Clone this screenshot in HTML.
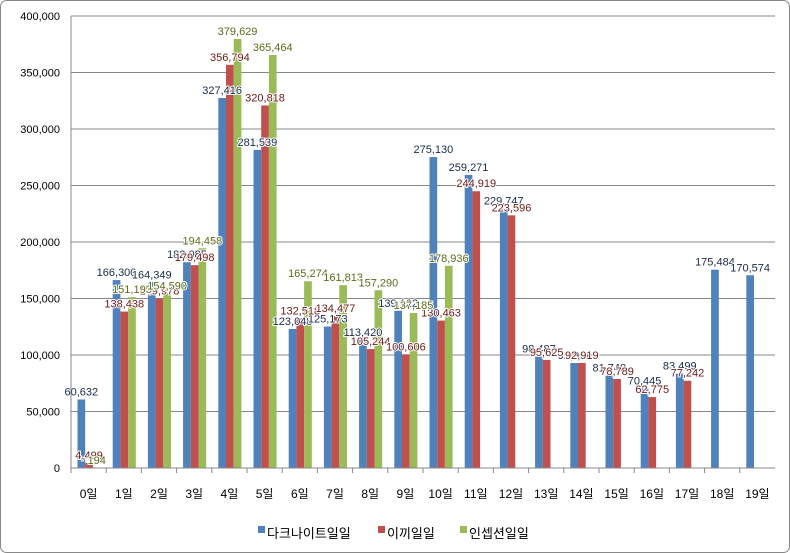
<!DOCTYPE html>
<html><head><meta charset="utf-8"><style>
html,body{margin:0;padding:0;background:#fff}
svg{display:block;font-family:"Liberation Sans","Noto Sans CJK KR",sans-serif}
</style></head><body>
<svg id="chart" width="790" height="553" xmlns="http://www.w3.org/2000/svg">
<rect x="0.5" y="0.5" width="789" height="552" rx="6" fill="#fff" stroke="#888"/>
<g id="grid"></g><g id="bars"></g><g id="labels"></g><g id="axes"></g>
<g font-size="13">
<rect x="258" y="526" width="7" height="7" fill="#4f81bd"/>
<text x="267" y="538" fill="#000">다크나이트일일</text>
<rect x="378" y="526" width="7" height="7" fill="#c0504d"/>
<text x="387" y="538" fill="#000">이끼일일</text>
<rect x="460" y="526" width="7" height="7" fill="#9bbb59"/>
<text x="469" y="538" fill="#000">인셉션일일</text>
</g>
</svg>
<script>
const categories=["0일","1일","2일","3일","4일","5일","6일","7일","8일","9일","10일","11일","12일","13일","14일","15일","16일","17일","18일","19일"];
const darkKnight=[60632,166300,164349,182085,327416,281539,123048,125173,113420,139122,275130,259271,229747,98487,92911,81748,70445,83499,175484,170574];
const ikki=[4499,138438,149978,179498,356794,320818,132518,134477,105244,100606,130463,244919,223596,95625,92919,78789,62775,77242,null,null];
const inception=[194,151195,154590,194458,379629,365464,165274,161813,157290,137185,178936,null,null,null,null,null,null,null,null,null];
const yTicks=[0,50000,100000,150000,200000,250000,300000,350000,400000];
const NS="http://www.w3.org/2000/svg";
const x0=71,step=35.2,y0=468,yTop=16,yMax=400000;
const yS=v=>y0-(v/yMax)*(y0-yTop);
const xC=i=>x0+i*step;
const fmt=v=>v.toLocaleString('en-US');
function mk(t,a,p){const e=document.createElementNS(NS,t);for(const k in a)e.setAttribute(k,a[k]);p.appendChild(e);return e;}
const grid=document.getElementById('grid'),bars=document.getElementById('bars'),labels=document.getElementById('labels'),axes=document.getElementById('axes');
yTicks.forEach((v,i)=>{
 if(v>0){const l=mk('line',{x1:x0,x2:775,y1:yS(v),y2:yS(v),stroke:'#888','stroke-width':1},grid);
 
 }
 const t=mk('text',{x:60,y:yS(v)+4,'text-anchor':'end','font-size':11,fill:'#000'},axes);t.textContent=fmt(v);
 
 
});
const ax=mk('line',{x1:x0,x2:x0,y1:yTop,y2:y0,stroke:'#888'},axes);


const bx=mk('line',{x1:x0,x2:775,y1:y0,y2:y0,stroke:'#888'},axes);


categories.forEach((c,i)=>{
 const tk=mk('line',{x1:xC(i),x2:xC(i),y1:y0,y2:y0+5,stroke:'#888'},axes);
 
 
 const t=mk('text',{x:xC(i)+step/2,y:498,'text-anchor':'middle','font-size':12,fill:'#000'},axes);t.textContent=c;
 
 
});
const series=[[darkKnight,'#4f81bd','#1a2a4a','dark-knight'],[ikki,'#c0504d','#6b1a18','ikki'],[inception,'#9bbb59','#5e6a1a','inception']];
const bw=7.7,off=6.5;
series.forEach(([data,col,lc,nm],s)=>{
 data.forEach((v,i)=>{
  if(v==null)return;
  const x=xC(i)+off+s*bw;
  const r=mk('rect',{x:x,y:yS(v),width:bw,height:y0-yS(v),fill:col},bars);
  
  
  const t=mk('text',{x:x+bw/2,y:yS(v)-4,'text-anchor':'middle','font-size':11,fill:lc,stroke:'#fff','stroke-width':2,'paint-order':'stroke'},labels);
  t.textContent=fmt(v);
  
  
 });
});
</script>
</body></html>
